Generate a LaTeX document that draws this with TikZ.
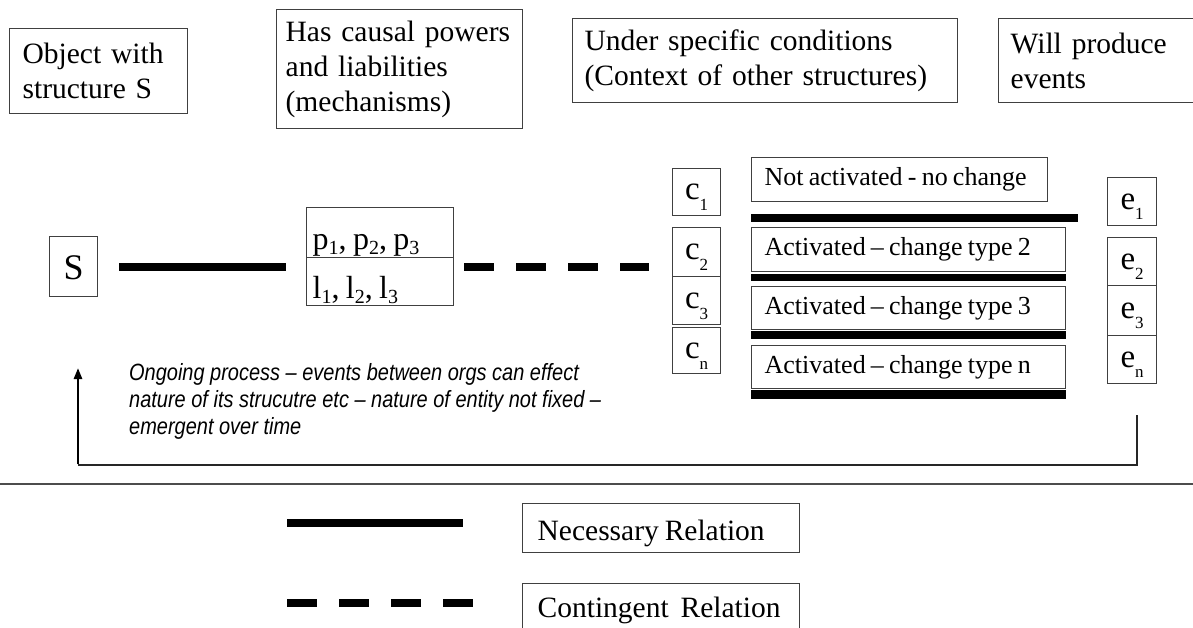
\documentclass[tikz,border=0pt]{standalone}
\usepackage{fontspec}
\setmainfont{Liberation Serif}[WordSpace=0.8]
\newfontfamily\notefont{Liberation Sans}[FakeStretch=0.85]
\usetikzlibrary{calc,arrows.meta}
\newcommand{\lsub}[2][-10pt]{\raisebox{#1}{\fontsize{17}{17}\selectfont #2}}
\newcommand{\psub}[1]{\raisebox{-5pt}{\fontsize{20}{20}\selectfont #1}}
\newcommand{\lline}[2]{\makebox[#1][l]{#2}}
\begin{document}
\begin{tikzpicture}[x=1pt,y=-1pt,
  box/.style={draw=black!75, line width=1.3pt, inner ysep=0pt, anchor=north west, align=left},
  bw/.style={minimum width=#1},
  bh/.style={minimum height=#1},
  toptext/.style={font=\fontsize{29.5}{35}\selectfont},
  midtext/.style={font=\fontsize{26}{30}\selectfont},
  lettext/.style={font=\fontsize{33}{33}\selectfont, inner xsep=0pt, align=center, text height=15pt, text depth=0pt},
  necessary/.style={line width=8pt, black},
  contingent/.style={line width=8pt, black, dash pattern=on 30pt off 22pt},
  bar/.style={line width=#1, black},
  fb/.style={line width=1.5pt, black!85},
  sep/.style={line width=2pt, black!70}]
\useasboundingbox (0,0) rectangle (1193,628);
% top captions
\node[box, toptext, bw=178pt, bh=85pt, inner xsep=13pt, text width=152pt] (b1) at (9,28) {Object with\\structure S};
\node[box, toptext, bw=246pt, bh=119pt, inner xsep=9pt, text width=228pt] (b2) at (276,9) {Has causal powers\\and liabilities\\(mechanisms)};
\node[box, toptext, bw=385pt, bh=84pt, inner xsep=12pt, text width=361pt] (b3) at (572,18) {Under specific conditions\\(Context of other structures)};
\node[box, toptext, bw=210pt, bh=84pt, inner xsep=12pt, text width=186pt] (b4) at (998,18) {Will produce\\events};
% structure
\node[box, bw=48pt, bh=60pt, inner xsep=0pt, align=center, font=\fontsize{36}{36}\selectfont, text height=25pt, text depth=0pt] (S) at (49,236) {S};
\node[box, font=\fontsize{32}{32}\selectfont, bw=147pt, bh=50pt, inner xsep=6pt, text height=36pt, text depth=2pt] (P) at (306,207) {\lline{135pt}{p\psub{1}, p\psub{2}, p\psub{3}}};
\node[box, font=\fontsize{32}{32}\selectfont, bw=147pt, bh=48pt, inner xsep=6pt, text height=36pt, text depth=2pt] (L) at (306,257) {\lline{135pt}{l\psub{1}, l\psub{2}, l\psub{3}}};
% conditions
\node[box, lettext, bw=48pt, bh=47pt] (C1) at (672,168) {c\lsub[-11pt]{1}};
\node[box, lettext, bw=48pt, bh=49pt] (C2) at (672,227) {c\lsub[-11pt]{2}};
\node[box, lettext, bw=48pt, bh=48pt] (C3) at (672,276) {c\lsub[-11pt]{3}};
\node[box, lettext, bw=48pt, bh=46pt] (Cn) at (672,327) {c\lsub[-11pt]{n}};
% activations
\node[box, midtext, bw=296pt, bh=44pt, inner xsep=13pt] (NA) at (751,157) {\lline{270pt}{Not activated - no change}};
\node[box, midtext, bw=314pt, bh=44pt, inner xsep=13pt] (A2) at (751,227) {\lline{288pt}{Activated – change type 2}};
\node[box, midtext, bw=314pt, bh=43pt, inner xsep=13pt] (A3) at (751,286) {\lline{288pt}{Activated – change type 3}};
\node[box, midtext, bw=314pt, bh=43pt, inner xsep=13pt] (An) at (751,345) {\lline{288pt}{Activated – change type n}};
% events
\node[box, lettext, bw=49pt, bh=48pt] (E1) at (1107,177) {e\lsub{1}};
\node[box, lettext, bw=49pt, bh=48pt] (E2) at (1107,237) {e\lsub{2}};
\node[box, lettext, bw=49pt, bh=50pt] (E3) at (1107,285) {e\lsub{3}};
\node[box, lettext, bw=49pt, bh=48pt] (En) at (1107,335) {e\lsub{n}};
% relations
\draw[necessary, shorten <=21pt, shorten >=20pt] (S.east) -- (S.east -| P.west);
\draw[contingent, shorten <=10pt, shorten >=23pt] (S.east -| P.east) -- (S.east -| C2.west);
% bars under activation boxes
\draw[bar=8pt] ($(NA.south west)+(0,16)$) -- ($(NA.south east)+(30,16)$);
\draw[bar=7pt] ($(A2.south west)+(0,5)$) -- ($(A2.south east)+(0,5)$);
\draw[bar=8pt] ($(A3.south west)+(0,5)$) -- ($(A3.south east)+(0,5)$);
\draw[bar=9pt] ($(An.south west)+(0,5)$) -- ($(An.south east)+(0,5)$);
% feedback loop
\coordinate (fbs) at (1137,415);
\coordinate (fbc) at (78,465);
\coordinate (fbe) at (78,368);
\draw[fb] (fbs) |- (fbc);
\draw[line width=2.5pt, -{Triangle[length=11pt,width=8pt]}] ([yshift=0.75pt]fbc) -- (fbe);
\node[anchor=north west, inner sep=0pt, align=left, font=\notefont\itshape\fontsize{23.5}{27}\selectfont] (note) at (129,363)
  {Ongoing process – events between orgs can effect\\nature of its strucutre etc – nature of entity not fixed –\\emergent over time};
% separator
\coordinate (sl) at (0,484);
\coordinate (sr) at (1193,484);
\draw[sep] (sl) -- (sr);
% legend
\node[box, toptext, bw=277pt, bh=49pt, inner xsep=15pt, text height=27pt, text depth=2pt] (NR) at (522,503) {\lline{247pt}{Necessary Relation}};
\node[box, toptext, bw=277pt, bh=60pt, inner xsep=15pt, text height=22pt, text depth=14pt] (CR) at (522,583) {\lline{247pt}{Contingent\ \ Relation}};
\coordinate (n1) at (287,523);
\coordinate (n2) at (463,523);
\draw[necessary] (n1) -- (n2);
\coordinate (d1) at (287,603);
\coordinate (d2) at (473,603);
\draw[contingent] (d1) -- (d2);
\end{tikzpicture}
\end{document}
